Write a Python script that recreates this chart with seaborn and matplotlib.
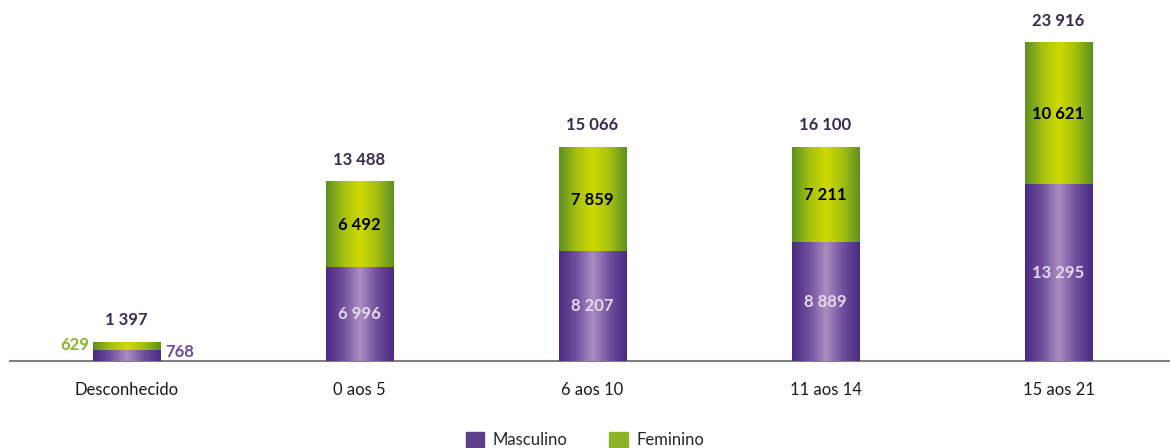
import matplotlib
matplotlib.use('Agg')
import matplotlib.pyplot as plt
from matplotlib.colors import LinearSegmentedColormap
from matplotlib.patches import Patch
import numpy as np
import pandas as pd
import seaborn as sns

sns.set_style('white')
plt.rcParams['font.family'] = ['Lato', 'DejaVu Sans']

# data
categorias = ['Desconhecido', '0 aos 5', '6 aos 10', '11 aos 14', '15 aos 21']
masculino = [768, 6996, 8207, 8889, 13295]
feminino = [629, 6492, 7859, 7211, 10621]
# totals as printed on the chart
totais_txt = [1397, 13488, 15066, 16100, 23916]
totais = [m + f for m, f in zip(masculino, feminino)]

def fmt(v):
    return '{:,}'.format(v).replace(',', ' ')

df = pd.DataFrame({'cat': categorias, 'masc': masculino, 'fem': feminino, 'total': totais})

cmap_m = LinearSegmentedColormap.from_list('m', ['#4a2a82', '#6f4f9c', '#ab8dc0', '#6f4f9c', '#4a2a82'])
cmap_f = LinearSegmentedColormap.from_list('f', ['#5c8f22', '#a3bf10', '#cfd900', '#a3bf10', '#5c8f22'])

fig = plt.figure(figsize=(11.7, 4.48), dpi=100)
ax = fig.add_axes([10 / 1170, 1 - 361 / 448, 1165 / 1170, 361 / 448])

# total bar (feminino on top), then masculino bar drawn over it
sns.barplot(data=df, x='cat', y='total', color='#8db32a', width=0.29, ax=ax, saturation=1)
sns.barplot(data=df, x='cat', y='masc', color='#5f3f8c', width=0.29, ax=ax, saturation=1)

grad = np.linspace(0, 1, 256).reshape(1, -1)
n = len(categorias)
for i, p in enumerate(ax.patches):
    x0, y0 = p.get_x(), p.get_y()
    w, h = p.get_width(), p.get_height()
    if i < n:
        # feminino part only: from masc top to total
        y0 = masculino[i]
        h = totais[i] - masculino[i]
        cm = cmap_f
    else:
        cm = cmap_m
    ax.imshow(grad, cmap=cm, aspect='auto', extent=(x0, x0 + w, y0, y0 + h),
              zorder=3, interpolation='bicubic')
    p.set_visible(False)

ax.set_xlim(-0.5, n - 0.5)
ax.set_ylim(0, 27150)

fs = 12
# labels
for i in range(n):
    ax.text(i, totais[i] + 1050, fmt(totais_txt[i]), ha='center', va='bottom',
            fontsize=fs, fontweight='bold', color='#3b2a4f', zorder=5)
    if i == 0:
        ax.text(i - 0.16, 1230, fmt(feminino[i]), ha='right', va='center',
                fontsize=fs, fontweight='bold', color='#8db32a', zorder=5)
        ax.text(i + 0.165, 680, fmt(masculino[i]), ha='left', va='center',
                fontsize=fs, fontweight='bold', color='#6a4c9c', zorder=5)
    else:
        ax.text(i, masculino[i] / 2, fmt(masculino[i]), ha='center', va='center',
                fontsize=fs, fontweight='bold', color='#e4d8f0', zorder=5)
        ax.text(i, masculino[i] + feminino[i] / 2, fmt(feminino[i]), ha='center', va='center',
                fontsize=fs, fontweight='bold', color='black', zorder=5)

for s in ['top', 'right', 'left']:
    ax.spines[s].set_visible(False)
ax.spines['bottom'].set_color('#7f7f7f')
ax.spines['bottom'].set_linewidth(1.5)
ax.set_yticks([])
ax.set_xlabel('')
ax.set_ylabel('')
ax.set_xticks(range(n))
ax.set_xticklabels(categorias, fontsize=fs, color='#1a1a1a')
ax.tick_params(axis='x', length=0, pad=15)
# minor ticks at category boundaries
ax.set_xticks(np.arange(-0.5, n, 1), minor=True)
ax.tick_params(axis='x', which='minor', length=4, color='#7f7f7f', width=1)

handles = [Patch(color='#5f3f8c', label='Masculino'), Patch(color='#8db32a', label='Feminino')]
fig.legend(handles=handles, loc='center', bbox_to_anchor=(0.5, 1 - 440 / 448),
           ncol=2, frameon=False, fontsize=fs, handlelength=1.1, handleheight=1.1,
           columnspacing=2.5, handletextpad=0.5)

fig.savefig('out.png', dpi=100)
